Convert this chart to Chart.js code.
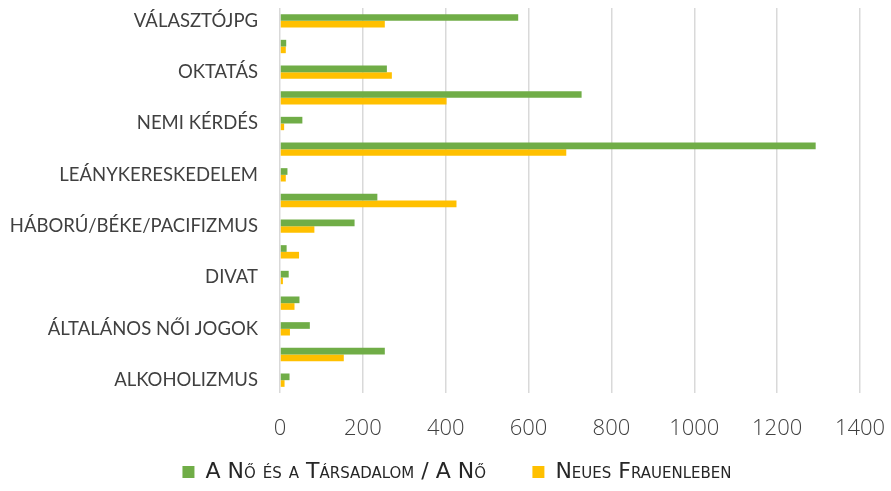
<!DOCTYPE html>
<html>
<head>
<meta charset="utf-8">
<script src="https://cdn.jsdelivr.net/npm/chart.js@4.4.1/dist/chart.umd.min.js"></script>
<style>
  html, body { margin: 0; padding: 0; background: #fff; }
  #wrap { width: 891px; height: 491px; position: relative; }
</style>
</head>
<body>
<div id="wrap"><canvas id="chart"></canvas></div>
<script>
// categories, top to bottom (only every other one is labelled in the source chart)
const categories = [
  'VÁLASZTÓJPG', '', 'OKTATÁS', '', 'NEMI KÉRDÉS', '', 'LEÁNYKERESKEDELEM', '',
  'HÁBORÚ/BÉKE/PACIFIZMUS', '', 'DIVAT', '', 'ÁLTALÁNOS NŐI JOGOK', '', 'ALKOHOLIZMUS'
];
const aNo = [575, 15, 258, 728, 54, 1293, 18, 235, 180, 16, 21, 47, 72, 253, 23];
const neuesFrauenleben = [253, 14, 270, 402, 10, 691, 14, 426, 83, 46, 7, 35, 24, 154, 11];
const xTicks = [0, 200, 400, 600, 800, 1000, 1200, 1400];

const seriesNames = ['A Nő és a Társadalom / A Nő', 'Neues Frauenleben'];

// the legend in the original sits a bit right of centre and a few px lower
const legendShift = {
  id: 'legendShift',
  afterLayout(chart) {
    const lg = chart.legend;
    if (!lg) return;
    lg.left += 54;
    lg.top += 3;
    lg.bottom += 3;
  }
};

const ctx = document.getElementById('chart').getContext('2d');
const chart = new Chart(ctx, {
  type: 'bar',
  data: {
    labels: categories,
    datasets: [{
      label: seriesNames[0],
      data: aNo,
      backgroundColor: '#70AD47',
      borderWidth: 0
    }, {
      label: seriesNames[1],
      data: neuesFrauenleben,
      backgroundColor: '#FFC000',
      borderWidth: 0
    }]
  },
  plugins: [legendShift],
  options: {
    indexAxis: 'y',
    responsive: true,
    maintainAspectRatio: false,
    animation: false,
    layout: { padding: { top: 8, right: 31, bottom: 1, left: 0 } },
    datasets: {
      bar: { categoryPercentage: 0.52, barPercentage: 1 }
    },
    scales: {
      x: {
        min: 0,
        max: 1400,
        afterBuildTicks: (scale) => { scale.ticks = xTicks.map(v => ({ value: v })); },
        afterFit: (scale) => {
          scale.paddingLeft = 0;
          scale.paddingRight = 0;
          scale.height = 45;
        },
        grid: { color: '#d9d9d9', lineWidth: 1.5, drawTicks: false },
        border: { display: false },
        ticks: {
          padding: 23,
          color: '#404040',
          callback: (v) => String(v),
          font: { family: '"Open Sans", sans-serif', size: 22, weight: 300 }
        }
      },
      y: {
        grid: { display: false },
        border: { display: false },
        afterFit: (scale) => {
          scale.width = 280;
          scale.paddingTop = 0;
          scale.paddingBottom = 0;
        },
        ticks: {
          autoSkip: false,
          padding: 14,
          color: '#404040',
          font: { family: 'Lato, sans-serif', size: 18.5, weight: 400 }
        }
      }
    },
    plugins: {
      tooltip: { enabled: false },
      legend: {
        position: 'bottom',
        labels: {
          boxWidth: 12,
          boxHeight: 12,
          padding: 20,
          color: '#262626',
          font: { family: '"DejaVu Sans", sans-serif', size: 22, weight: 'small-caps' },
          generateLabels: (c) => {
            const items = Chart.defaults.plugins.legend.labels.generateLabels(c);
            // widen the gap between the two entries
            items[0].text += '\u2003\u2009';
            return items;
          }
        }
      }
    }
  }
});
</script>
</body>
</html>
